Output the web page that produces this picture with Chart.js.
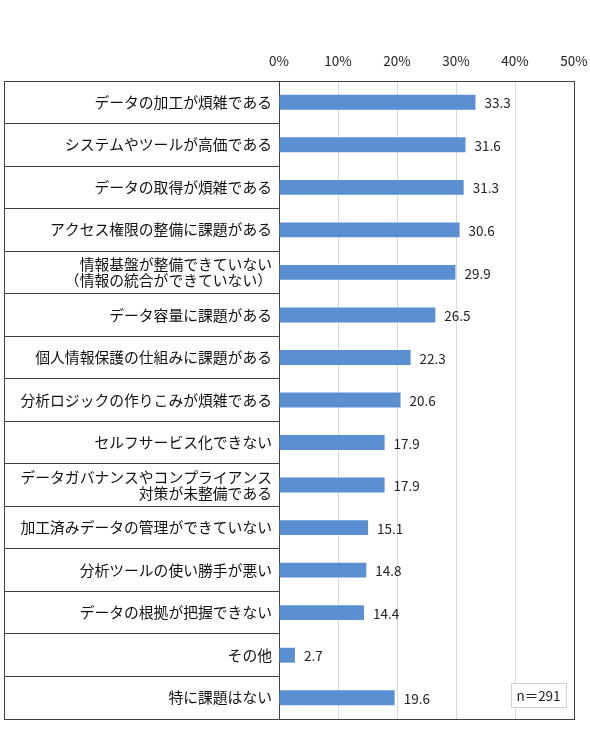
<html lang="ja">
<head>
    <meta charset="UTF-8">
    <title>課題</title>
    <script src="https://cdn.jsdelivr.net/npm/chart.js@4.4.0/dist/chart.umd.min.js"></script>
    <style>
        body { margin: 0; background: #fff; overflow: hidden; }
        #wrap { width: 590px; height: 734px; position: relative; }
    </style>
</head>
<body>
  <div id="wrap">
      <canvas id="myChart"></canvas>
  </div>

  <script>
    var categories = [
        "データの加工が煩雑である",
        "システムやツールが高価である",
        "データの取得が煩雑である",
        "アクセス権限の整備に課題がある",
        ["情報基盤が整備できていない", "（情報の統合ができていない）"],
        "データ容量に課題がある",
        "個人情報保護の仕組みに課題がある",
        "分析ロジックの作りこみが煩雑である",
        "セルフサービス化できない",
        ["データガバナンスやコンプライアンス", "対策が未整備である"],
        "加工済みデータの管理ができていない",
        "分析ツールの使い勝手が悪い",
        "データの根拠が把握できない",
        "その他",
        "特に課題はない"
    ]
    var values = [33.3, 31.6, 31.3, 30.6, 29.9, 26.5, 22.3, 20.6, 17.9, 17.9, 15.1, 14.8, 14.4, 2.7, 19.6]
    var tickValues = [0, 10, 20, 30, 40, 50]
    var tickLabels = ["0%", "10%", "20%", "30%", "40%", "50%"]
    var sampleNote = "n＝291"

    var font = "'Noto Sans CJK JP', 'Noto Sans', sans-serif"
    var lineColor = "#404040"

    // outer frame + n box
    var framePlugin = {
        id: "frame",
        afterDraw(chart) {
            var ctx = chart.ctx
            var a = chart.chartArea
            ctx.save()
            ctx.strokeStyle = lineColor
            ctx.lineWidth = 1
            ctx.strokeRect(4.5, a.top + 0.5, a.right - 4, a.bottom - a.top)
            // n box
            ctx.strokeStyle = "#d0d0d0"
            ctx.fillStyle = "#fff"
            ctx.fillRect(511, 683, 55, 24)
            ctx.strokeRect(511.5, 683.5, 55, 24)
            ctx.fillStyle = "#222"
            ctx.font = "13.5px " + font
            ctx.textAlign = "center"
            ctx.textBaseline = "middle"
            ctx.fillText(sampleNote, 538.5, 696)
            ctx.restore()
        }
    }

    // value labels at bar ends
    var valuePlugin = {
        id: "values",
        afterDatasetsDraw(chart) {
            var ctx = chart.ctx
            var meta = chart.getDatasetMeta(0)
            ctx.save()
            ctx.fillStyle = "#222"
            ctx.font = "13.5px " + font
            ctx.textAlign = "left"
            ctx.textBaseline = "middle"
            meta.data.forEach((bar, i) => {
                ctx.fillText(values[i].toFixed(1), bar.x + 9, bar.y + 1)
            })
            ctx.restore()
        }
    }

    new Chart("myChart", {
      type: "bar",
      data: {
        labels: categories,
        datasets: [{
          data: values,
          backgroundColor: "#5a8fd2",
          barPercentage: 0.35,
          categoryPercentage: 1
        }]
      },
      plugins: [framePlugin, valuePlugin],
      options: {
        indexAxis: "y",
        responsive: true,
        maintainAspectRatio: false,
        animation: false,
        layout: { padding: { left: 4, right: 16, top: 0, bottom: 15 } },
        plugins: {
          legend: { display: false },
          tooltip: { enabled: false }
        },
        scales: {
          x: {
            position: "top",
            min: 0,
            max: 50,
            afterBuildTicks(scale) {
              scale.ticks = tickValues.map(v => ({ value: v }))
            },
            afterFit(scale) {
              scale.height = 81
              scale.paddingLeft = 0
              scale.paddingRight = 0
            },
            ticks: {
              padding: 12,
              color: "#222",
              font: { family: font, size: 13.5 },
              callback: (v, i) => tickLabels[i]
            },
            grid: {
              drawTicks: false,
              color: ctx => (ctx.tick && (ctx.tick.value === 0 || ctx.tick.value === 50)) ? "rgba(0,0,0,0)" : "#d9d9d9"
            },
            border: { display: true, color: lineColor }
          },
          y: {
            afterFit(scale) {
              scale.width = 275
              scale.paddingTop = 0
              scale.paddingBottom = 0
            },
            ticks: {
              padding: -268,
              color: "#111",
              font: { family: font, size: 14.8, lineHeight: 1.1 }
            },
            grid: {
              offset: true,
              drawOnChartArea: false,
              drawTicks: true,
              tickLength: 275,
              color: lineColor
            },
            border: { display: true, color: lineColor }
          }
        }
      }
    });
  </script>
</body>
</html>
